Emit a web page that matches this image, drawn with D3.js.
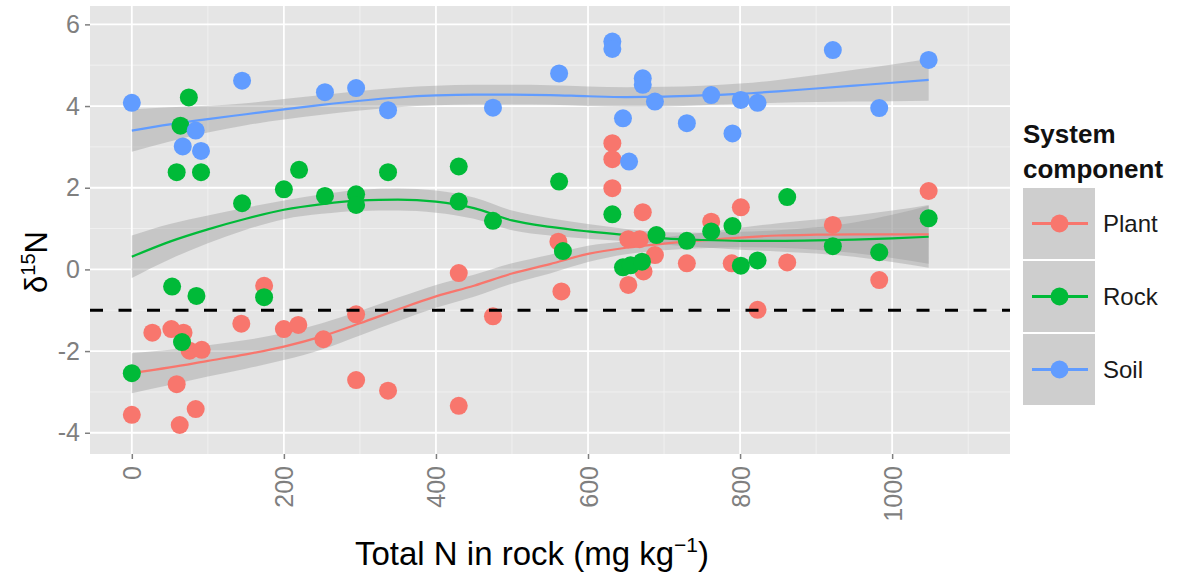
<!DOCTYPE html>
<html><head><meta charset="utf-8">
<script src="https://cdn.jsdelivr.net/npm/d3@7"></script>
<style>body{margin:0;background:#fff}svg{font-family:"Liberation Sans",Arial,sans-serif}</style>
</head><body><svg id="c" width="1180" height="584"></svg>
<script>
// ---- data ----
const groups = ["Plant", "Rock", "Soil"];
const groupColors = ["#F8766D", "#00BA38", "#619CFF"];

const plantX = [0, 27, 52, 59, 63, 68, 76, 84, 92, 144, 174, 200, 219, 252, 295, 295, 337, 430, 430, 475,
                561, 565, 632, 632, 632, 653, 653, 668, 672, 673, 688, 730, 762, 789, 801, 823, 862, 922, 983, 1048];
const plantY = [-3.56, -1.55, -1.46, -2.81, -3.81, -1.55, -1.99, -3.42, -1.97, -1.33, -0.40, -1.46, -1.36, -1.71, -1.10, -2.71, -2.97, -0.09, -3.34, -1.15,
                0.68, -0.54, 3.09, 2.70, 1.99, 0.74, -0.38, 0.74, 1.40, -0.05, 0.35, 0.15, 1.17, 0.15, 1.52, -0.99, 0.17, 1.09, -0.26, 1.92];

const rockX = [0, 53, 59, 64, 66, 75, 85, 91, 145, 174, 200, 220, 254, 295, 295, 337, 430, 430, 475, 562,
               567, 632, 646, 656, 671, 690, 730, 762, 790, 801, 823, 862, 922, 983, 1048];
const rockY = [-2.54, -0.42, 2.38, 3.52, -1.78, 4.21, -0.65, 2.38, 1.62, -0.68, 1.96, 2.44, 1.80, 1.84, 1.58, 2.38, 2.52, 1.66, 1.19, 2.15,
               0.45, 1.35, 0.05, 0.10, 0.19, 0.84, 0.70, 0.93, 1.06, 0.09, 0.22, 1.77, 0.57, 0.42, 1.25];

const soilX = [0, 67, 84, 91, 145, 254, 295, 337, 475, 562, 632, 632, 646, 654, 672, 672, 688, 730, 762, 790,
               801, 823, 922, 983, 1048];
const soilY = [4.08, 3.01, 3.40, 2.90, 4.62, 4.34, 4.44, 3.90, 3.96, 4.80, 5.58, 5.40, 3.70, 2.64, 4.68, 4.52, 4.11, 3.58, 4.27, 3.33,
               4.15, 4.08, 5.37, 3.95, 5.13];

// smoothed (loess) curves and their confidence half-widths
const smoothX = [0, 50, 100, 150, 200, 250, 300, 350, 400, 450, 500, 550, 600, 650, 700, 750, 800, 850, 900, 950, 1000, 1048];
const plantFit  = [-2.54, -2.40, -2.24, -2.08, -1.89, -1.64, -1.32, -0.98, -0.66, -0.40, -0.10, 0.13, 0.38, 0.53, 0.63, 0.71, 0.78, 0.83, 0.85, 0.86, 0.86, 0.86];
const plantHalf = [0.49, 0.43, 0.38, 0.35, 0.33, 0.32, 0.30, 0.29, 0.28, 0.27, 0.25, 0.23, 0.20, 0.16, 0.16, 0.19, 0.24, 0.30, 0.37, 0.46, 0.58, 0.72];
const rockFit   = [0.31, 0.68, 0.98, 1.24, 1.46, 1.60, 1.69, 1.71, 1.66, 1.50, 1.20, 1.04, 0.93, 0.84, 0.76, 0.72, 0.70, 0.70, 0.71, 0.73, 0.76, 0.80];
const rockHalf  = [0.52, 0.43, 0.34, 0.27, 0.23, 0.24, 0.26, 0.27, 0.27, 0.26, 0.24, 0.21, 0.18, 0.15, 0.15, 0.18, 0.22, 0.26, 0.32, 0.42, 0.58, 0.76];
const soilFit   = [3.40, 3.55, 3.68, 3.80, 3.92, 4.03, 4.13, 4.21, 4.26, 4.28, 4.28, 4.27, 4.24, 4.22, 4.23, 4.26, 4.30, 4.36, 4.43, 4.50, 4.57, 4.64];
const soilHalf  = [0.52, 0.42, 0.33, 0.27, 0.25, 0.24, 0.24, 0.24, 0.24, 0.24, 0.24, 0.24, 0.24, 0.24, 0.24, 0.24, 0.25, 0.28, 0.33, 0.39, 0.45, 0.51];

const xTicks = [0, 200, 400, 600, 800, 1000];
const xMinor = [100, 300, 500, 700, 900, 1100];
const yTicks = [-4, -2, 0, 2, 4, 6];
const yMinor = [-3, -1, 1, 3, 5];
const refLineY = -1;

const seriesX = [plantX, rockX, soilX];
const seriesY = [plantY, rockY, soilY];
const fitsY = [plantFit, rockFit, soilFit];
const halfs = [plantHalf, rockHalf, soilHalf];

// ---- drawing ----
const svg = d3.select("#c");
const P = {l: 90, r: 1010, t: 6, b: 454};
const x = d3.scaleLinear().domain([-55, 1155]).range([P.l, P.r]);
const y = d3.scaleLinear().domain([-4.52, 6.45]).range([P.b, P.t]);

svg.append("rect").attr("x", P.l).attr("y", P.t).attr("width", P.r - P.l).attr("height", P.b - P.t).attr("fill", "#E5E5E5");
const g = svg.append("g");
g.selectAll(".vmin").data(xMinor).join("line").attr("x1", d => x(d)).attr("x2", d => x(d)).attr("y1", P.t).attr("y2", P.b).attr("stroke", "#F2F2F2").attr("stroke-width", 0.9);
g.selectAll(".hmin").data(yMinor).join("line").attr("y1", d => y(d)).attr("y2", d => y(d)).attr("x1", P.l).attr("x2", P.r).attr("stroke", "#F2F2F2").attr("stroke-width", 0.9);
g.selectAll(".vmaj").data(xTicks).join("line").attr("x1", d => x(d)).attr("x2", d => x(d)).attr("y1", P.t).attr("y2", P.b).attr("stroke", "#fff").attr("stroke-width", 1.8);
g.selectAll(".hmaj").data(yTicks).join("line").attr("y1", d => y(d)).attr("y2", d => y(d)).attr("x1", P.l).attr("x2", P.r).attr("stroke", "#fff").attr("stroke-width", 1.8);

const smooths = groups.map((_, i) => smoothX.map((sx, k) => ({x: sx, y: fitsY[i][k], lo: fitsY[i][k] - halfs[i][k], hi: fitsY[i][k] + halfs[i][k]})));
const area = d3.area().x(d => x(d.x)).y0(d => y(d.lo)).y1(d => y(d.hi)).curve(d3.curveMonotoneX);
const line = d3.line().x(d => x(d.x)).y(d => y(d.y)).curve(d3.curveMonotoneX);
smooths.forEach(f => {
  svg.append("path").attr("d", area(f)).attr("fill", "#999999").attr("fill-opacity", 0.4);
});
smooths.forEach((f, i) => {
  svg.append("path").attr("d", line(f)).attr("fill", "none").attr("stroke", groupColors[i]).attr("stroke-width", 2.2);
});
groups.forEach((grp, i) => {
  svg.append("g").selectAll("circle").data(seriesX[i].map((v, k) => [v, seriesY[i][k]])).join("circle")
    .attr("cx", d => x(d[0])).attr("cy", d => y(d[1])).attr("r", 9).attr("fill", groupColors[i]);
});
svg.append("line").attr("x1", P.l).attr("x2", P.r).attr("y1", y(refLineY)).attr("y2", y(refLineY))
  .attr("stroke", "#000").attr("stroke-width", 3).attr("stroke-dasharray", "13,15.5");

// axes
const axX = svg.append("g").attr("transform", `translate(0,${P.b})`).call(d3.axisBottom(x).tickValues(xTicks).tickSize(5).tickFormat(d3.format("d")));
axX.select(".domain").remove();
axX.selectAll(".tick line").attr("stroke", "#7F7F7F").attr("stroke-width", 1.5);
axX.selectAll(".tick text").attr("fill", "#7F7F7F").attr("font-size", 25).attr("font-family", "Liberation Sans, Arial, sans-serif")
  .attr("text-anchor", "end").attr("transform", "rotate(-90)").attr("x", -12).attr("y", 0).attr("dy", "0.36em");
const axY = svg.append("g").attr("transform", `translate(${P.l},0)`).call(d3.axisLeft(y).tickValues(yTicks).tickSize(5).tickFormat(d => String(d)));
axY.select(".domain").remove();
axY.selectAll(".tick line").attr("stroke", "#7F7F7F").attr("stroke-width", 1.5);
axY.selectAll(".tick text").attr("fill", "#7F7F7F").attr("font-size", 25).attr("font-family", "Liberation Sans, Arial, sans-serif").attr("x", -10);

// axis titles
const xt = svg.append("text").attr("x", 532).attr("y", 565).attr("text-anchor", "middle").attr("font-size", 33).attr("fill", "#000");
xt.append("tspan").text("Total N in rock (mg kg");
xt.append("tspan").attr("dy", -13).attr("font-size", 21).text("−1");
xt.append("tspan").attr("dy", 13).text(")");
const yt = svg.append("text").attr("transform", "translate(47,262) rotate(-90)").attr("text-anchor", "middle").attr("font-size", 31).attr("fill", "#000");
yt.append("tspan").text("δ");
yt.append("tspan").attr("dy", -12).attr("font-size", 20).text("15");
yt.append("tspan").attr("dy", 12).text("N");

// legend
const lg = svg.append("g");
lg.append("text").attr("x", 1023).attr("y", 143).attr("font-size", 26).attr("font-weight", "bold").attr("fill", "#111").text("System");
lg.append("text").attr("x", 1023).attr("y", 178).attr("font-size", 26).attr("font-weight", "bold").attr("fill", "#111").text("component");
groups.forEach((grp, i) => {
  const top = 188 + i * 73, cy = top + 35.5;
  lg.append("rect").attr("x", 1023).attr("y", top).attr("width", 72).attr("height", 71).attr("fill", "#CECECE");
  lg.append("line").attr("x1", 1032).attr("x2", 1088).attr("y1", cy).attr("y2", cy).attr("stroke", groupColors[i]).attr("stroke-width", 3);
  lg.append("circle").attr("cx", 1059.5).attr("cy", cy).attr("r", 9).attr("fill", groupColors[i]);
  lg.append("text").attr("x", 1103).attr("y", cy).attr("dy", "0.36em").attr("font-size", 24).attr("fill", "#1a1a1a").text(grp);
});
</script></body></html>
